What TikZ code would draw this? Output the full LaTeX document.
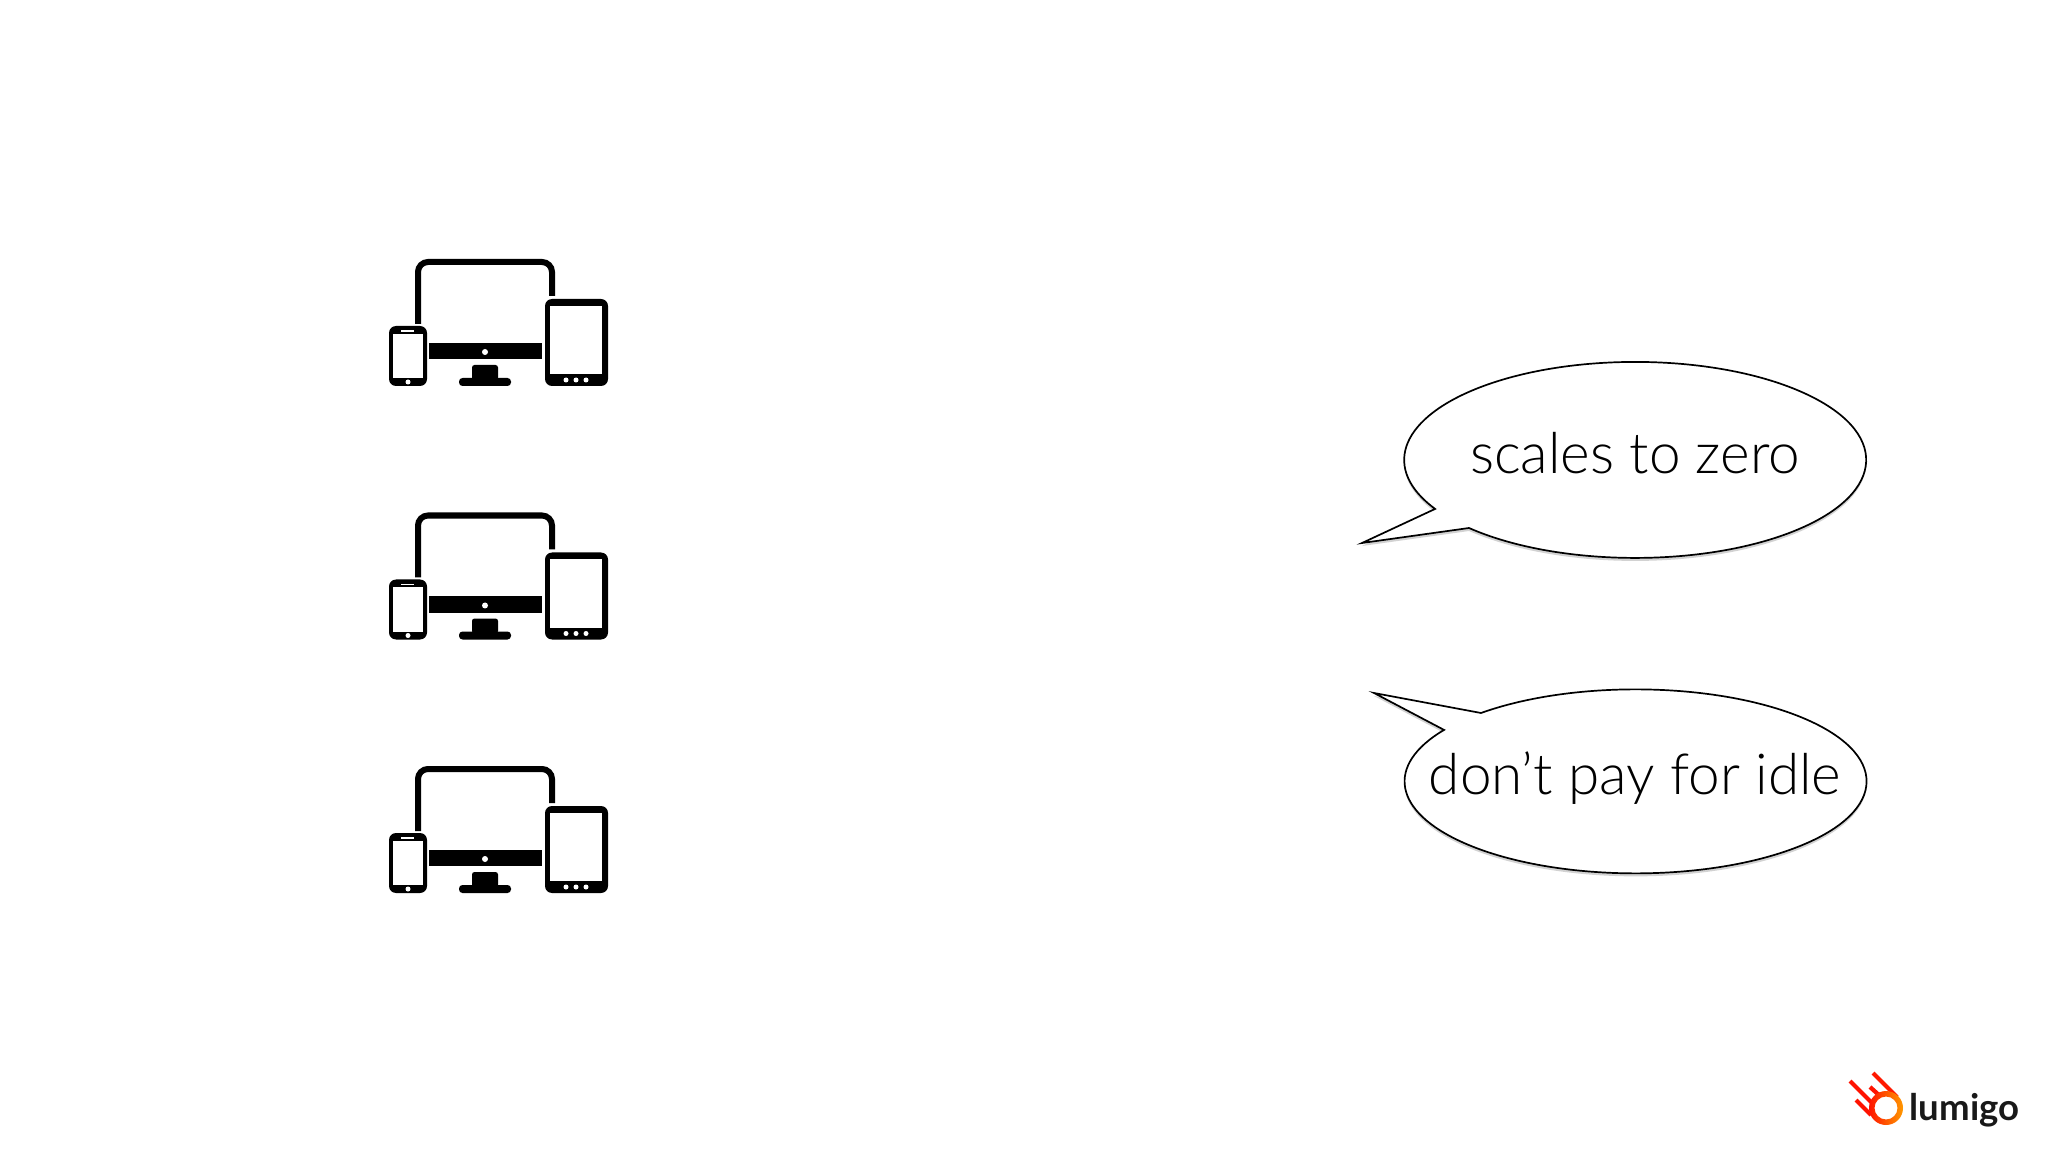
\documentclass[tikz,border=0pt]{standalone}
\usepackage{fontspec}
\setmainfont{Lato Light}
\newfontfamily\logofont{Lato}
\usepackage{tikz}
\usetikzlibrary{shadows}

\tikzset{
  bubble/.style={draw=black, fill=white, line width=0.17mm, line join=miter,
    drop shadow={shadow xshift=0pt, shadow yshift=-0.3mm, opacity=0.35}},
  bubbletext/.style={font=\fontsize{16.1}{19}\selectfont, text=black},
  hole/.style={fill=white},
  cometline/.style={line width=0.42mm},
  pics/devices/.style={code={
    % monitor frame
    \draw[black, line width=0.6mm, rounded corners=1mm] (418,324)--(418,262)--(552,262)--(552,296);
    \fill[black] (429,343) rectangle (542,359);
    \fill[hole] (485,352) circle (3);
    \fill[black, rounded corners=0.25mm] (472,365) rectangle (498,380);
    \fill[black, rounded corners=0.35mm] (459,378) rectangle (511,386);
    % phone
    \fill[black, rounded corners=0.7mm] (389,326) rectangle (427,386);
    \fill[hole] (393,334) rectangle (423,378);
    \fill[hole] (401,330.2) rectangle (414,331.8);
    \fill[hole] (408,382) circle (2.5);
    % tablet
    \fill[black, rounded corners=0.7mm] (545,299) rectangle (608,386);
    \fill[hole] (550,306) rectangle (602,374);
    \foreach \dotx in {566,576,586} \fill[hole] (\dotx,380) circle (2.5);
  }}
}

\begin{document}
\begin{tikzpicture}[x=0.01cm, y=-0.01cm]
\useasboundingbox (0,0) rectangle (2048,1152);
\fill[white] (0,0) rectangle (2048,1152);
% three device groups
\foreach \rowy in {0,253.5,507}
  \pic at (0,\rowy) {devices};
% speech bubbles
\draw[bubble] (1362,543)--(1469,528) arc[start angle=136, end angle=-210, x radius=231, y radius=98]--cycle;
\node[bubbletext] (scales) at (1635,453) {scales to zero};
\draw[bubble] (1374,693)--(1481,713) arc[start angle=228, end angle=574, x radius=231, y radius=92]--cycle;
\node[bubbletext] (idle) at (1635,778) {don’t pay for idle};
% logo
\draw[cometline, red!85!orange] (1850,1081)--(1872,1103);
\draw[cometline, red!80!orange] (1873,1073)--(1897,1097);
\draw[cometline, red!85!orange] (1870,1087)--(1880,1096);
\draw[cometline, red!85!orange] (1856,1100)--(1871,1115);
\shade[left color=red!85!orange, right color=orange!80!yellow, even odd rule]
  (1886,1108) circle (17) (1886,1108) circle (11.5);
\node[font=\logofont\bfseries\fontsize{10.4}{12}\selectfont, anchor=west, inner sep=0pt, text=black!90] (logo) at (1909,1110) {lumigo};
\end{tikzpicture}
\end{document}
